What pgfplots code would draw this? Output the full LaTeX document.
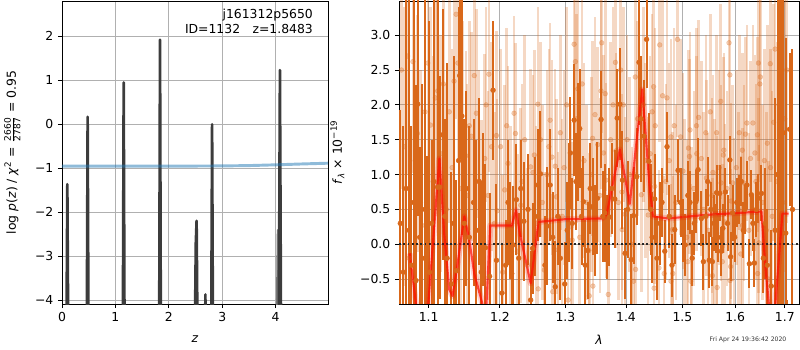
\documentclass[border=0pt]{standalone}
\usepackage{fontspec}
\setmainfont{DejaVu Sans}
\usepackage{amsmath}
\usepackage{pgfplots}
\usepackage{pgfplotstable}
\pgfplotsset{compat=1.18}
\definecolor{dk}{RGB}{217,104,26}
\definecolor{spk}{RGB}{60,60,60}
\definecolor{bl}{RGB}{31,119,180}
\definecolor{gridc}{RGB}{176,176,176}
\pgfplotsset{
  every axis/.append style={
    font=\fontsize{9.3}{11}\selectfont,
    tick label style={font=\fontsize{9.3}{11}\selectfont},
    label style={font=\fontsize{9.3}{11}\selectfont},
    scale only axis, anchor=south west,
    grid=major, major grid style={gridc, line width=0.6pt},
    axis line style={line width=0.6pt},
    tick align=outside, major tick length=3pt,
    every tick/.style={black, line width=0.6pt},
    xtick pos=bottom, ytick pos=left,
  },
  darkbar/.style={only marks, mark=*, mark size=1.8pt, color=dk, mark options={fill=dk, draw=none},
    error bars/.cd, y dir=both, y explicit, error mark=none, error bar style={line width=1.5pt, dk}},
  lightbar/.style={only marks, mark=*, mark size=1.8pt, color=dk, mark options={fill=dk, draw=none, opacity=0.3},
    error bars/.cd, y dir=both, y explicit, error mark=none, error bar style={line width=1.9pt, dk, opacity=0.26}},
}
\pgfplotstableread{
x y e
1.0625 0.30 1.62
1.0665 -0.40 2.10
1.0700 0.80 2.80
1.0740 0.20 3.40
1.0770 -0.30 2.00
1.0800 0.60 2.90
1.0830 -0.52 2.80
1.0853 2.01 1.60
1.0880 0.10 1.30
1.0915 -0.20 2.50
1.0950 0.50 3.10
1.0980 0.16 1.10
1.1010 -0.40 3.60
1.1040 0.30 1.20
1.1070 0.90 2.60
1.1120 0.82 2.70
1.1150 0.82 1.60
1.1188 1.57 1.80
1.1220 0.40 1.40
1.1250 -0.20 2.80
1.1310 -0.57 1.60
1.1340 0.30 2.40
1.1380 -0.38 1.30
1.1410 1.20 2.20
1.1425 2.42 1.20
1.1455 1.84 1.70
1.1490 0.30 1.50
1.1520 0.80 1.40
1.1560 0.10 1.60
1.1620 0.60 1.20
1.1660 0.20 1.30
1.1700 0.90 1.20
1.1730 -0.40 1.30
1.1760 0.50 1.10
1.1790 -0.05 1.20
1.1850 -0.46 1.20
1.1900 2.21 1.00
1.1950 -0.23 1.10
1.2030 -0.70 0.70
1.2085 -0.30 0.65
1.2120 0.60 0.90
1.2150 0.20 0.70
1.2175 -0.42 0.70
1.2196 -0.01 0.85
1.2245 0.64 0.80
1.2280 -0.20 0.65
1.2310 0.80 0.70
1.2357 0.33 0.85
1.2420 0.50 0.80
1.2460 -0.80 0.70
1.2490 -0.06 0.65
1.2530 0.40 0.85
1.2570 0.85 0.80
1.2610 1.01 0.90
1.2680 -0.30 0.70
1.2710 0.26 0.85
1.2760 0.85 0.80
1.2800 0.10 0.65
1.2840 -0.61 0.65
1.2880 0.40 0.70
1.2920 -0.20 0.60
1.2990 -0.57 0.60
1.3030 0.20 0.70
1.3060 0.60 0.85
1.3080 1.31 0.80
1.3110 0.30 0.65
1.3140 1.78 0.80
1.3170 0.90 0.70
1.3200 1.47 0.85
1.3230 1.66 0.85
1.3260 0.40 0.70
1.3290 0.61 0.65
1.3320 -0.30 0.65
1.3360 -0.09 0.70
1.3400 0.80 0.65
1.3440 0.54 0.70
1.3480 0.20 0.65
1.3520 0.66 0.80
1.3580 1.79 0.70
1.3610 0.40 0.65
1.3640 0.45 0.70
1.3680 0.10 0.60
1.3720 0.39 0.70
1.3760 0.80 0.65
1.3810 0.65 0.70
1.3850 1.81 0.70
1.3895 2.01 0.80
1.3940 0.92 0.70
1.3985 -0.13 0.65
1.4030 0.50 0.70
1.4090 -0.22 0.65
1.4130 0.41 0.70
1.4185 0.97 0.70
1.4225 2.61 0.90
1.4260 1.80 0.90
1.4310 1.55 0.80
1.4357 2.94 0.70
1.4397 1.19 0.70
1.4430 0.50 0.65
1.4455 0.10 0.65
1.4500 0.65 0.65
1.4540 -0.20 0.60
1.4590 0.30 0.60
1.4630 0.60 0.50
1.4680 -0.10 0.45
1.4720 1.40 0.50
1.4760 0.40 0.45
1.4810 -0.30 0.45
1.4860 0.21 0.50
1.4920 1.06 0.45
1.4966 0.60 0.50
1.5010 0.20 0.45
1.5050 -0.01 0.45
1.5100 0.70 0.50
1.5140 0.60 0.45
1.5180 -0.20 0.40
1.5220 0.30 0.45
1.5250 0.61 0.45
1.5290 1.07 0.45
1.5350 0.37 0.40
1.5390 -0.25 0.40
1.5435 0.40 0.40
1.5470 0.90 0.35
1.5500 -0.23 0.40
1.5530 0.50 0.40
1.5560 -0.25 0.35
1.5590 0.30 0.40
1.5620 0.23 0.35
1.5640 0.74 0.40
1.5670 0.10 0.35
1.5700 0.73 0.40
1.5730 -0.10 0.35
1.5760 0.23 0.35
1.5810 0.75 0.35
1.5850 0.30 0.40
1.5895 1.21 0.35
1.5910 -0.18 0.35
1.5950 0.45 0.40
1.5990 0.10 0.35
1.6030 0.60 0.35
1.6080 0.64 0.35
1.6120 0.90 0.35
1.6160 0.20 0.40
1.6190 0.50 0.35
1.6230 0.85 0.35
1.6280 -0.28 0.35
1.6320 0.71 0.35
1.6350 0.30 0.40
1.6380 -0.27 0.35
1.6420 0.50 0.40
1.6460 0.66 0.35
1.6520 0.73 0.40
1.6560 -0.20 0.50
1.6600 0.30 0.80
1.6640 -0.30 0.80
1.6720 -0.60 0.80
1.6800 0.20 1.90
1.6850 1.00 2.60
1.6900 1.40 2.80
1.6930 1.20 3.00
1.6970 1.60 3.00
1.7020 0.16 2.80
1.7050 -1.20 0.40
1.7100 1.65 1.10
1.7160 0.50 2.30
}\darktab
\pgfplotstableread{
x y e
1.0640 2.50 1.70
1.0680 1.40 2.00
1.0720 2.70 1.70
1.0740 -0.20 1.60
1.0790 2.62 1.60
1.0820 1.20 1.80
1.0850 1.59 1.70
1.0890 0.60 1.90
1.0910 0.27 1.70
1.0950 1.90 1.80
1.0988 2.60 1.60
1.1025 1.71 1.70
1.1060 0.90 1.80
1.1090 2.10 1.70
1.1122 2.20 1.60
1.1160 1.30 1.70
1.1200 2.30 1.60
1.1240 0.50 1.80
1.1280 1.90 1.60
1.1320 1.10 1.70
1.1346 2.34 1.60
1.1375 3.30 1.50
1.1400 2.60 1.40
1.1440 0.80 1.70
1.1470 1.60 1.60
1.1510 1.27 1.50
1.1530 0.70 1.60
1.1560 1.70 1.50
1.1590 1.55 1.50
1.1630 2.42 1.40
1.1660 1.88 1.50
1.1700 0.90 1.60
1.1730 0.18 1.60
1.1780 1.23 1.50
1.1800 2.00 1.40
1.1830 0.70 1.50
1.1840 2.44 1.40
1.1880 1.40 1.50
1.1920 0.30 1.60
1.1950 1.56 1.50
1.1960 0.48 1.60
1.2010 1.40 1.40
1.2040 -0.40 1.40
1.2070 0.78 1.50
1.2100 1.70 1.40
1.2120 1.16 1.40
1.2160 0.20 1.50
1.2210 1.88 1.40
1.2230 1.59 1.30
1.2260 -0.10 1.40
1.2310 0.56 1.40
1.2330 0.90 1.40
1.2370 1.50 1.50
1.2410 -0.30 1.40
1.2460 1.11 1.40
1.2495 1.03 1.40
1.2515 1.28 1.50
1.2540 0.30 1.40
1.2570 2.01 1.40
1.2575 -0.64 1.30
1.2610 1.50 1.40
1.2640 0.60 1.40
1.2670 -0.37 1.40
1.2710 1.00 1.50
1.2740 1.40 1.40
1.2760 1.78 1.40
1.2790 1.25 1.40
1.2800 -0.68 1.40
1.2840 1.12 1.40
1.2860 0.68 1.40
1.2880 -0.08 1.40
1.2920 1.60 1.40
1.2950 0.40 1.40
1.2980 1.10 1.40
1.3020 2.00 1.40
1.3045 -0.80 1.40
1.3090 0.25 1.50
1.3110 0.06 1.40
1.3140 2.87 1.40
1.3160 2.62 1.40
1.3180 1.80 1.50
1.3200 2.23 1.40
1.3230 0.10 1.40
1.3270 2.30 1.40
1.3300 1.20 1.40
1.3340 0.60 1.40
1.3380 -0.09 1.40
1.3385 -0.74 1.30
1.3420 1.00 1.40
1.3440 1.52 1.40
1.3445 -0.60 1.30
1.3480 1.86 1.40
1.3525 1.43 1.40
1.3560 0.70 1.40
1.3580 2.20 1.40
1.3590 2.89 1.30
1.3620 1.31 1.40
1.3650 2.16 1.40
1.3660 0.92 1.40
1.3700 -0.72 1.40
1.3740 1.50 1.40
1.3780 2.00 1.40
1.3820 2.61 1.40
1.3830 1.34 1.40
1.3870 0.60 1.40
1.3910 2.50 1.40
1.3930 0.75 1.40
1.3935 0.21 1.30
1.3955 2.00 1.40
1.3985 0.43 1.40
1.4020 1.50 1.50
1.4060 1.00 1.40
1.4100 0.00 1.40
1.4130 -0.53 1.40
1.4160 2.40 1.40
1.4165 -0.36 1.40
1.4200 1.80 1.40
1.4265 0.71 1.40
1.4300 2.00 1.40
1.4340 1.20 1.40
1.4386 0.42 1.40
1.4420 1.30 1.40
1.4455 1.90 1.40
1.4480 2.26 1.40
1.4490 -0.63 1.40
1.4500 0.83 1.40
1.4510 1.70 1.40
1.4575 -0.34 1.40
1.4590 2.86 1.40
1.4640 2.13 1.40
1.4670 -0.42 1.40
1.4700 0.90 1.40
1.4720 2.10 1.40
1.4760 1.20 1.40
1.4790 1.54 1.40
1.4792 -0.53 1.40
1.4820 0.21 1.40
1.4825 -0.42 1.40
1.4850 1.70 1.40
1.4880 0.60 1.40
1.4910 2.94 1.40
1.4966 1.54 1.40
1.5010 1.05 1.40
1.5040 0.40 1.40
1.5080 0.10 1.40
1.5100 -0.25 1.40
1.5110 1.38 1.40
1.5130 1.26 1.40
1.5140 1.64 1.40
1.5155 -0.53 1.40
1.5170 0.00 1.40
1.5210 0.80 1.40
1.5260 1.70 1.40
1.5265 1.30 1.40
1.5300 1.82 1.40
1.5350 1.23 1.40
1.5390 0.50 1.40
1.5435 1.60 1.40
1.5445 0.95 1.40
1.5480 0.20 1.40
1.5520 1.90 1.40
1.5550 0.70 1.40
1.5560 -0.45 1.40
1.5570 1.03 1.40
1.5600 0.40 1.40
1.5640 1.60 1.40
1.5645 0.16 1.40
1.5650 -0.62 1.40
1.5690 1.10 1.40
1.5720 2.05 1.40
1.5725 0.88 1.40
1.5750 -0.25 1.40
1.5770 1.28 1.40
1.5780 1.35 1.40
1.5800 0.32 1.40
1.5840 0.80 1.40
1.5880 2.89 1.40
1.5895 2.43 1.40
1.5900 -0.52 1.40
1.5910 -0.32 1.40
1.5920 0.62 1.40
1.5950 0.88 1.40
1.5980 0.12 1.40
1.6020 1.10 1.40
1.6060 0.50 1.40
1.6080 1.60 1.40
1.6110 -0.14 1.40
1.6140 1.35 1.40
1.6145 0.27 1.40
1.6170 0.88 1.40
1.6200 1.58 1.40
1.6230 1.74 1.40
1.6270 0.20 1.40
1.6300 1.23 1.40
1.6350 1.74 1.40
1.6390 1.31 1.40
1.6410 0.90 1.40
1.6440 1.57 1.40
1.6445 -0.42 1.40
1.6460 2.60 1.40
1.6465 0.70 1.40
1.6470 0.02 1.40
1.6490 2.30 1.40
1.6500 2.40 1.40
1.6540 0.60 1.40
1.6580 1.20 1.60
1.6620 0.20 1.70
1.6640 1.45 1.70
1.6670 -0.50 1.70
1.6700 2.59 1.70
1.6705 1.10 1.70
1.6740 0.40 1.80
1.6770 1.75 1.70
1.6800 2.80 1.80
1.6840 0.90 2.00
1.6880 2.00 2.00
1.6920 3.20 2.00
1.6960 0.60 2.20
1.7000 1.80 2.20
1.7040 2.50 2.20
}\lighttab
\begin{document}
\begin{tikzpicture}
\path[use as bounding box] (0,0) rectangle (600pt,262.5pt);
% ---------------- left panel
\begin{axis}[at={(46.5pt,34.5pt)}, width=199.5pt, height=227.25pt,
  xmin=0, xmax=4.98, ymin=-4.08, ymax=2.8,
  xtick={0,1,2,3,4}, xticklabels={0,1,2,3,4},
  ytick={-4,-3,-2,-1,0,1,2}, yticklabels={−4,−3,−2,−1,0,1,2},
  xlabel={\textit{z}},
  ylabel={log \textit{p}(\textit{z}) / \textit{χ}\textsuperscript{2} = $\frac{\text{\fontsize{6.8}{7}\selectfont 2660}}{\text{\fontsize{6.8}{7}\selectfont 2787}}$ = 0.95},
  xlabel style={yshift=-3pt}, ylabel style={yshift=4pt}]
\addplot[spk, line width=2pt, line join=round] coordinates {(0.085,-4.5)(0.10,-1.36)(0.115,-4.5)};
\addplot[spk, line width=2pt, line join=round] coordinates {(0.465,-4.5)(0.48,0.17)(0.495,-4.5)};
\addplot[spk, line width=2pt, line join=round] coordinates {(1.14,-4.5)(1.155,0.95)(1.17,-4.5)};
\addplot[spk, line width=2pt, line join=round] coordinates {(1.82,-4.5)(1.835,1.92)(1.85,-4.5)};
\addplot[spk, line width=2pt, line join=round] coordinates {(2.49,-4.5)(2.505,-2.7)(2.52,-2.19)(2.535,-4.5)};
\addplot[spk, line width=1.8pt, line join=round] coordinates {(2.672,-4.5)(2.685,-3.86)(2.698,-4.5)};
\addplot[spk, line width=2pt, line join=round] coordinates {(2.795,-4.5)(2.81,0.0)(2.825,-4.5)};
\addplot[spk!70, line width=1.5pt, line join=round] coordinates {(4.02,-4.5)(4.04,-2.4)(4.06,-4.5)};
\addplot[spk, line width=2pt, line join=round] coordinates {(4.06,-4.5)(4.08,1.23)(4.10,-4.5)};
\addplot[bl, opacity=0.5, line width=2.2pt] coordinates {(0,-0.95)(1,-0.95)(2,-0.95)(3,-0.945)(3.5,-0.937)(4,-0.92)(4.5,-0.9)(4.98,-0.883)};
\node[anchor=north east, align=right, inner sep=0pt, font=\fontsize{9.3}{11.5}\selectfont] at (rel axis cs:0.944,0.975) {j161312p5650\\ID=1132\quad z=1.8483};
\end{axis}
% ---------------- right panel
\begin{axis}[at={(299.25pt,34.5pt)}, width=300pt, height=227.25pt,
  xmode=log, xmin=1.0608, xmax=1.7298, ymin=-0.857, ymax=3.49,
  xtick={1.1,1.2,1.3,1.4,1.5,1.6,1.7}, xticklabels={1.1,1.2,1.3,1.4,1.5,1.6,1.7},
  minor xtick={},
  ytick={-0.5,0,0.5,1,1.5,2,2.5,3}, yticklabels={−0.5,0.0,0.5,1.0,1.5,2.0,2.5,3.0},
  xlabel={\textit{λ}}, ylabel={\textit{f}\textsubscript{\textit{λ}} × 10\textsuperscript{−19}},
  xlabel style={yshift=-3pt}, ylabel style={yshift=5pt}]
\addplot[lightbar] table[x=x, y=y, y error=e] {\lighttab};
\addplot[darkbar] table[x=x, y=y, y error=e] {\darktab};
\addplot[black!85, line width=1.4pt, dash pattern=on 1.4pt off 1.8pt] coordinates {(1.0608,0)(1.7298,0)};
\addplot[red, opacity=0.18, line width=4.5pt, line join=round] coordinates {(1.0747,-0.13)(1.083,-0.85)(1.09,-1.3)(1.0995,-0.85)(1.1145,1.23)(1.121,0.16)(1.128,-0.65)(1.1325,-0.74)(1.139,-0.32)(1.149,0.40)(1.156,0.06)(1.163,-0.42)(1.1745,-0.85)(1.177,-1.0)(1.1805,-0.85)(1.186,0.27)(1.2175,0.27)(1.224,0.49)(1.2295,0.16)(1.246,-0.56)(1.258,0.32)(1.300,0.36)(1.359,0.37)(1.367,0.42)(1.3895,1.36)(1.4065,0.58)(1.428,2.22)(1.441,0.83)(1.447,0.40)(1.474,0.37)(1.5418,0.42)(1.652,0.47)(1.660,-0.3)(1.669,-1.0)(1.675,-1.2)(1.680,-0.9)(1.695,0.44)(1.708,0.44)};
\addplot[red!90!orange, opacity=0.7, line width=1.6pt, line join=round] coordinates {(1.0747,-0.13)(1.083,-0.85)(1.09,-1.3)(1.0995,-0.85)(1.1145,1.23)(1.121,0.16)(1.128,-0.65)(1.1325,-0.74)(1.139,-0.32)(1.149,0.40)(1.156,0.06)(1.163,-0.42)(1.1745,-0.85)(1.177,-1.0)(1.1805,-0.85)(1.186,0.27)(1.2175,0.27)(1.224,0.49)(1.2295,0.16)(1.246,-0.56)(1.258,0.32)(1.300,0.36)(1.359,0.37)(1.367,0.42)(1.3895,1.36)(1.4065,0.58)(1.428,2.22)(1.441,0.83)(1.447,0.40)(1.474,0.37)(1.5418,0.42)(1.652,0.47)(1.660,-0.3)(1.669,-1.0)(1.675,-1.2)(1.680,-0.9)(1.695,0.44)(1.708,0.44)};
\end{axis}
\node[anchor=base east, inner sep=0pt, font=\fontsize{4.6}{5}\selectfont, text=black!80] at (590pt,6pt) {Fri Apr 24 19:36:42 2020};
\end{tikzpicture}
\end{document}
